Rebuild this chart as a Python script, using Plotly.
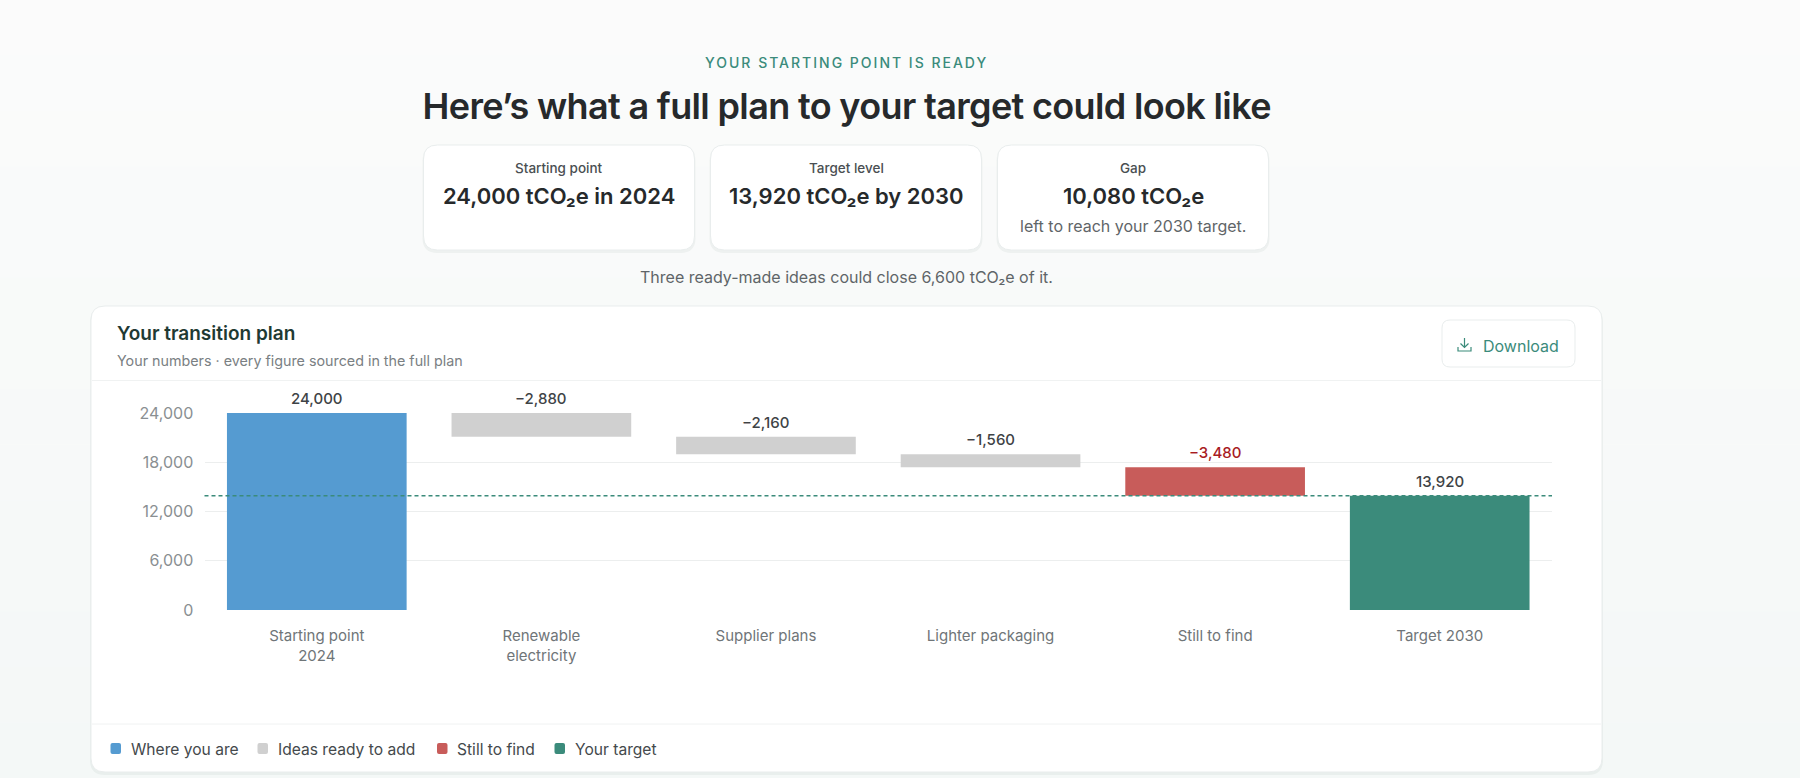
import plotly.graph_objects as go

W, H = 1800, 778

# ---- data ----
categories = ["Starting point<br>2024", "Renewable<br>electricity", "Supplier plans",
              "Lighter packaging", "Still to find", "Target 2030"]
start_value = 24000
idea_values = [2880, 2160, 1560]
gap_value = 3480
target_value = 13920
y_ticks = [0, 6000, 12000, 18000, 24000]
legend_names = ["Where you are", "Ideas ready to add", "Still to find", "Your target"]

BODY = "Inter, sans-serif"
HEAD = "Inter, sans-serif"
BLUE, GREY, RED, GREEN = "#559bd1", "#d0d0d0", "#c85c5a", "#3b8b7b"


def fx(x):
    return x / W


def fy(y):
    return 1 - y / H


def rrect(x0, y0, x1, y1, r):
    pts = [
        f"M{fx(x0 + r)},{fy(y0)}", f"L{fx(x1 - r)},{fy(y0)}",
        f"Q{fx(x1)},{fy(y0)} {fx(x1)},{fy(y0 + r)}", f"L{fx(x1)},{fy(y1 - r)}",
        f"Q{fx(x1)},{fy(y1)} {fx(x1 - r)},{fy(y1)}", f"L{fx(x0 + r)},{fy(y1)}",
        f"Q{fx(x0)},{fy(y1)} {fx(x0)},{fy(y1 - r)}", f"L{fx(x0)},{fy(y0 + r)}",
        f"Q{fx(x0)},{fy(y0)} {fx(x0 + r)},{fy(y0)}", "Z",
    ]
    return "".join(pts)


shapes = []

# soft page background wash, lighter at the top
top_rgb, bottom_rgb = (251, 251, 251), (244, 248, 247)
N_BANDS = 14
for i in range(N_BANDS):
    t = i / (N_BANDS - 1)
    c = tuple(round(a + (b - a) * t) for a, b in zip(top_rgb, bottom_rgb))
    shapes.append(dict(type="rect", xref="paper", yref="paper", layer="below",
                       x0=0, x1=1, y0=fy(H * (i + 1) / N_BANDS), y1=fy(H * i / N_BANDS),
                       fillcolor=f"rgb{c}", line=dict(width=0)))


def card(x0, y0, x1, y1, r, line="#e9eded", shadow=True):
    if shadow:
        shapes.append(dict(type="path", xref="paper", yref="paper", layer="below",
                           path=rrect(x0 - 1, y0 + 1, x1 + 1, y1 + 3, r + 1),
                           fillcolor="rgba(40,70,60,0.05)", line=dict(width=0)))
    shapes.append(dict(type="path", xref="paper", yref="paper", layer="below",
                       path=rrect(x0, y0, x1, y1, r), fillcolor="#ffffff",
                       line=dict(color=line, width=1)))


def hline(x0, x1, y, color="#f0f2f2"):
    shapes.append(dict(type="line", xref="paper", yref="paper", layer="below",
                       x0=fx(x0), x1=fx(x1), y0=fy(y), y1=fy(y),
                       line=dict(color=color, width=1)))


card(423.5, 145, 694.5, 250, 14)
card(710.5, 145, 981.5, 250, 14)
card(997.5, 145, 1268.5, 250, 14)
card(91, 306, 1602, 772, 14)
hline(92, 1601, 380.5)
hline(92, 1601, 724)
card(1442, 320, 1575, 367, 8, shadow=False)

# download icon
icon = (f"M{fx(1464.5)},{fy(338)}L{fx(1464.5)},{fy(347)}"
        f"M{fx(1460.5)},{fy(343.5)}L{fx(1464.5)},{fy(347.5)}L{fx(1468.5)},{fy(343.5)}"
        f"M{fx(1458)},{fy(347)}L{fx(1458)},{fy(351)}L{fx(1471)},{fy(351)}L{fx(1471)},{fy(347)}")
shapes.append(dict(type="path", xref="paper", yref="paper", path=icon,
                   line=dict(color=GREEN, width=1.2)))

# target reference line
shapes.append(dict(type="line", xref="x domain", yref="y", x0=0, x1=1, layer="above",
                   y0=target_value, y1=target_value,
                   line=dict(color=GREEN, width=1.5, dash="4px,3px")))

annotations = []


def txt(s, x, y, size, color, anchor="center", family=BODY, weight=400):
    annotations.append(dict(text=s, x=fx(x), y=fy(y), xref="paper", yref="paper",
                            xanchor=anchor, yanchor="middle", showarrow=False,
                            font=dict(size=size, color=color, family=family, weight=weight)))


txt("YOUR STARTING POINT IS READY", 846, 62, 14, "#3b8b7b", weight=500)
txt("Here\u2019s what a full plan to your target could look like", 846, 106, 36, "#26292b",
    family=HEAD, weight=600)
txt("Starting point", 559, 168, 13.5, "#4a4f52", weight=500)
txt("Target level", 846, 168, 13.5, "#4a4f52", weight=500)
txt("Gap", 1133, 168, 13.5, "#4a4f52", weight=500)
txt("24,000 tCO\u2082e in 2024", 559, 196, 22, "#26292b", weight=600)
txt("13,920 tCO\u2082e by 2030", 846, 196, 22, "#26292b", weight=600)
txt("10,080 tCO\u2082e", 1133, 196, 22, "#26292b", weight=600)
txt("left to reach your 2030 target.", 1133, 226, 16, "#5f6568")
txt("Three ready-made ideas could close 6,600 tCO\u2082e of it.", 846, 277, 16, "#5f6568")
txt("Your transition plan", 115, 333.5, 19, "#1f3a33", anchor="left", family=HEAD, weight=600)
txt("Your numbers \u00b7 every figure sourced in the full plan", 115, 361, 14.3, "#7a8083", anchor="left")
txt("Download", 1521, 345.5, 16, GREEN)

# hand-placed legend row, swatches and names
SWATCH_COLORS = [BLUE, GREY, RED, GREEN]
SWATCH_LEFT = [110.5, 257.5, 437, 554.5]
for name, col, sx in zip(legend_names, SWATCH_COLORS, SWATCH_LEFT):
    shapes.append(dict(type="path", xref="paper", yref="paper",
                       path=rrect(sx, 743, sx + 10.5, 754, 2), fillcolor=col, line=dict(width=0)))
    txt(name, sx + 18, 749, 15.6, "#44494c", anchor="left")

# ---- waterfall geometry comes from the data ----
running = start_value
idea_bases = []
for v in idea_values:
    running -= v
    idea_bases.append(running)
gap_base = running - gap_value

fmt = lambda v: f"{v:,}"
neg = lambda v: f"\u2212{v:,}"
LABEL_COLOR, LABEL_RED = "#3e4346", "#a81c1f"

fig = go.Figure()
fig.add_bar(name=legend_names[0], x=[categories[0]], y=[start_value], marker_color=BLUE)
fig.add_bar(name=legend_names[1], x=categories[1:4], y=idea_values, base=idea_bases, marker_color=GREY)
fig.add_bar(name=legend_names[2], x=[categories[4]], y=[gap_value], base=[gap_base], marker_color=RED)
fig.add_bar(name=legend_names[3], x=[categories[5]], y=[target_value], marker_color=GREEN)
fig.update_traces(marker_line_width=0, width=0.8, hoverinfo="x+y", cliponaxis=False)

# value labels sit above each bar's top, located through the axes
bar_tops = [start_value] + [b + v for b, v in zip(idea_bases, idea_values)] + [gap_base + gap_value, target_value]
bar_labels = [fmt(start_value)] + [neg(v) for v in idea_values] + [neg(gap_value), fmt(target_value)]
for cat, top, lab in zip(categories, bar_tops, bar_labels):
    annotations.append(dict(x=cat, y=top, xref="x", yref="y", text=lab, showarrow=False,
                            xanchor="center", yanchor="bottom", yshift=3,
                            font=dict(size=15, family=BODY, weight=500,
                                      color=LABEL_RED if top == gap_base + gap_value else LABEL_COLOR)))

fig.update_layout(
    width=W, height=H, margin=dict(l=0, r=0, t=0, b=0, autoexpand=False),
    paper_bgcolor="#f8faf9", plot_bgcolor="rgba(0,0,0,0)",
    barmode="overlay", shapes=shapes, annotations=annotations,
    font=dict(family=BODY), showlegend=False,
    xaxis=dict(domain=[fx(204.5), fx(1552)], type="category", categoryorder="array",
               categoryarray=categories, showgrid=False, zeroline=False, showline=False,
               ticks="outside", ticklen=12, tickcolor="rgba(0,0,0,0)",
               tickfont=dict(size=15, color="#6f7578", family=BODY)),
    yaxis=dict(domain=[fy(610), fy(413)], range=[0, start_value], tickvals=y_ticks,
               tickformat=",", gridcolor="#eceeee", gridwidth=1, zeroline=False, showline=False,
               ticks="outside", ticklen=7, tickcolor="rgba(0,0,0,0)",
               tickfont=dict(size=16, color="#8a8f92", family=BODY)),
)

post = """
document.body.style.margin='0';
document.body.style.overflow='hidden';
document.querySelectorAll('.annotation-text').forEach(function(t){
  var s=t.textContent;
  if(s.indexOf('YOUR STARTING')===0){t.style.letterSpacing='2px';}
  if(s.indexOf('Here')===0){t.style.letterSpacing='-0.65px';}
});
"""
fig.write_html("out.html", post_script=post, config=dict(displayModeBar=False))
